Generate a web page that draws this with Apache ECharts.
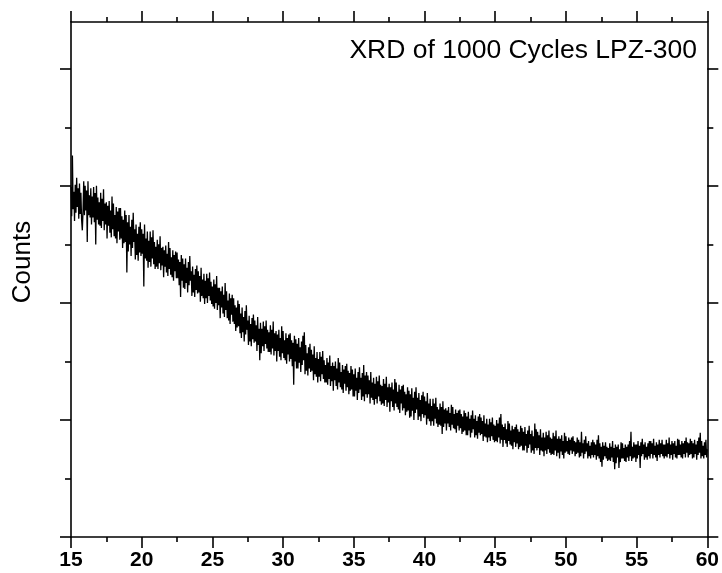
<!DOCTYPE html>
<html>
<head>
<meta charset="utf-8">
<script src="https://cdn.jsdelivr.net/npm/echarts@6/dist/echarts.min.js"></script>
<style>
    html, body { margin: 0; padding: 0; background: #fff; }
    #chart { width: 722px; height: 573px; }
</style>
</head>
<body>
<div id="chart"></div>
<script>
    // 2θ scan, 15° to 60°, one reading every 0.05°
    const thetaStart = 15;
    const thetaStep = 0.05;

    // counts, one row per degree (x.00 .. x.95)
    const counts = [
        299,274,326,280,295,270,301,277,307,282, 298,272,302,276,294,271,262,278,304,275,   // 15
        300,279,296,252,304,275,292,273,298,267, 291,273,299,269,294,250,300,271,290,267,   // 16
        286,266,294,264,289,270,297,262,285,267, 286,255,283,266,287,260,279,256,291,263,   // 17
        285,257,275,255,282,251,278,261,281,254, 281,255,274,247,271,251,279,252,275,226,   // 18
        269,244,275,250,265,240,271,247,277,252, 263,237,267,241,259,236,265,243,269,240,   // 19
        263,242,259,214,267,238,255,236,261,230, 253,235,261,231,256,238,262,233,252,229,   // 20
        248,231,254,229,250,234,257,228,247,232, 248,222,245,231,249,226,242,223,252,229,   // 21
        247,224,239,222,245,219,241,227,244,221, 243,221,237,215,235,205,241,219,238,213,   // 22
        233,212,238,217,230,209,235,215,240,219, 227,206,231,209,224,205,229,211,232,208,   // 23
        227,209,223,201,230,206,220,204,225,199, 219,204,225,200,221,206,226,202,218,199,   // 24
        214,197,220,195,216,200,223,194,213,198, 213,187,210,196,214,191,207,188,217,194,   // 25
        210,187,202,185,208,182,204,190,207,184, 204,182,198,176,196,179,202,180,199,174,   // 26
        191,170,196,175,188,167,193,173,198,177, 185,164,189,167,182,163,187,169,190,166,   // 27
        185,167,181,159,188,164,178,151,183,157, 178,163,184,159,180,165,185,161,177,158,   // 28
        175,158,181,156,177,161,184,155,174,159, 176,150,173,159,177,154,170,151,180,157,   // 29
        176,153,168,151,174,148,170,156,173,150, 174,152,168,146,166,130,172,150,169,144,   // 30
        165,144,170,149,162,141,167,147,172,151, 175,139,164,142,157,138,162,144,165,141,   // 31
        160,142,156,134,163,139,153,137,158,132, 152,137,158,133,154,139,159,135,151,132,   // 32
        147,132,153,130,149,135,155,129,146,133, 149,125,146,134,150,129,144,126,153,132,   // 33
        149,128,141,126,147,123,143,131,146,125, 148,128,142,122,140,125,146,126,143,120,   // 34
        139,120,144,125,136,117,141,123,145,126, 136,117,140,120,147,116,138,122,141,119,   // 35
        138,122,134,114,141,119,132,117,136,113, 131,118,137,114,133,120,138,116,130,113,   // 36
        129,114,135,112,131,117,137,111,128,115, 131,107,128,116,132,111,126,108,135,114,   // 37
        132,111,124,109,130,106,126,114,129,108, 130,110,124,104,122,107,128,108,125,102,   // 38
        122,103,127,108,119,100,124,106,128,109, 119,100,123,103,117,99,121,105,124,102,    // 39
        120,104,116,96,123,101,114,99,118,95, 112,99,118,95,114,101,119,97,111,94,          // 40
        109,96,114,95,111,88,116,94,109,97, 110,91,108,97,111,94,106,91,113,96,             // 41
        111,93,105,92,109,89,106,95,108,91, 109,93,105,88,103,90,108,91,106,87,             // 42
        103,87,107,91,101,85,104,89,108,92, 101,85,104,87,99,84,103,89,105,87,              // 43
        102,88,99,82,104,86,97,85,101,81, 96,85,101,82,98,86,102,83,96,81,                  // 44
        95,82,100,81,97,85,102,80,105,83, 96,77,94,83,97,80,92,77,99,82,                    // 45
        97,79,91,78,95,75,92,81,94,77, 96,80,92,75,90,77,95,78,93,74,                       // 46
        90,74,94,78,88,72,91,76,95,79, 88,72,91,74,86,71,97,76,92,74,                       // 47
        90,76,87,70,92,74,85,73,89,69, 85,74,90,71,87,75,91,72,85,70,                       // 48
        84,71,89,70,86,74,91,69,84,72, 86,67,84,73,87,70,82,67,89,72,                       // 49
        86,73,82,71,85,70,83,74,85,71, 86,73,82,69,81,71,85,72,83,68,                       // 50
        81,69,90,72,80,67,83,71,86,73, 80,67,82,69,78,67,81,70,83,68,                       // 51
        81,70,79,66,83,69,87,67,80,64, 77,60,81,66,78,69,81,67,77,65,                       // 52
        76,66,80,65,77,68,82,64,76,58, 79,63,77,68,79,59,75,64,81,67,                       // 53
        80,67,76,65,79,64,77,68,79,65, 82,69,90,65,77,67,81,68,79,64,                       // 54
        79,67,82,70,78,59,81,69,84,71, 79,66,81,68,77,66,80,69,82,67,                       // 55
        82,71,80,67,84,70,78,68,81,65, 79,70,83,68,80,71,83,69,79,67,                       // 56
        79,69,83,68,80,71,85,67,79,70, 82,66,80,71,82,68,78,67,84,70,                       // 57
        83,70,79,68,82,67,80,71,82,68, 85,72,81,68,80,70,84,71,82,67,                       // 58
        80,68,83,71,79,66,82,70,85,72, 89,67,82,69,78,67,81,70,83,68,                       // 59
        75                                                                                  // 60
    ];

    const xTicks = [15, 20, 25, 30, 35, 40, 45, 50, 55, 60];
    const yMajor = [0, 100, 200, 300, 400];
    const yMinor = [50, 150, 250, 350];

    const points = counts.map((c, i) => [+(thetaStart + i * thetaStep).toFixed(2), c]);

    const font = 'Liberation Sans, Arial, Helvetica, sans-serif';
    const axisLine = { show: true, onZero: false, lineStyle: { color: '#000', width: 1.6 } };

    function yAxis(pos, ticks, len, withLine, extra) {
        return Object.assign({
            type: 'value',
            position: pos,
            min: 0,
            max: 440,
            axisLine: withLine ? axisLine : { show: false },
            axisTick: { show: true, inside: false, length: len, customValues: ticks,
                        lineStyle: { color: '#000', width: 1.6 } },
            axisLabel: { show: false },
            splitLine: { show: false }
        }, extra || {});
    }

    function xAxis(pos, showLabels) {
        return {
            type: 'value',
            position: pos,
            min: xTicks[0],
            max: xTicks[xTicks.length - 1],
            interval: 5,
            axisLine: axisLine,
            axisTick: { show: true, inside: false, length: 11, lineStyle: { color: '#000', width: 1.6 } },
            minorTick: { show: true, splitNumber: 2, length: 5, lineStyle: { color: '#000', width: 1.6 } },
            axisLabel: {
                show: showLabels,
                margin: 13,
                color: '#000',
                fontFamily: font,
                fontWeight: 'bold',
                fontSize: 21
            },
            splitLine: { show: false },
            minorSplitLine: { show: false }
        };
    }

    const chart = echarts.init(document.getElementById('chart'), null, { renderer: 'canvas' });
    chart.setOption({
        animation: false,
        backgroundColor: '#fff',
        title: {
            text: 'XRD of 1000 Cycles LPZ-300',
            right: 25,
            top: 37,
            padding: 0,
            textStyle: { color: '#000', fontFamily: font, fontWeight: 'normal', fontSize: 26.5 }
        },
        grid: { left: 71, right: 13, top: 22, bottom: 36 },
        xAxis: [xAxis('bottom', true), xAxis('top', false)],
        yAxis: [
            yAxis('left', yMajor, 11, true, {
                name: 'Counts',
                nameLocation: 'middle',
                nameGap: 35,
                nameTextStyle: { color: '#000', fontFamily: font, fontSize: 26, padding: [0, 0, 0, 35] }
            }),
            yAxis('left', yMinor, 6, false),
            yAxis('right', yMajor, 11, true),
            yAxis('right', yMinor, 6, false)
        ],
        series: [{
            type: 'line',
            data: points,
            xAxisIndex: 0,
            yAxisIndex: 0,
            showSymbol: false,
            sampling: null,
            lineStyle: { color: '#000', width: 1.3 }
        }]
    });
</script>
</body>
</html>
